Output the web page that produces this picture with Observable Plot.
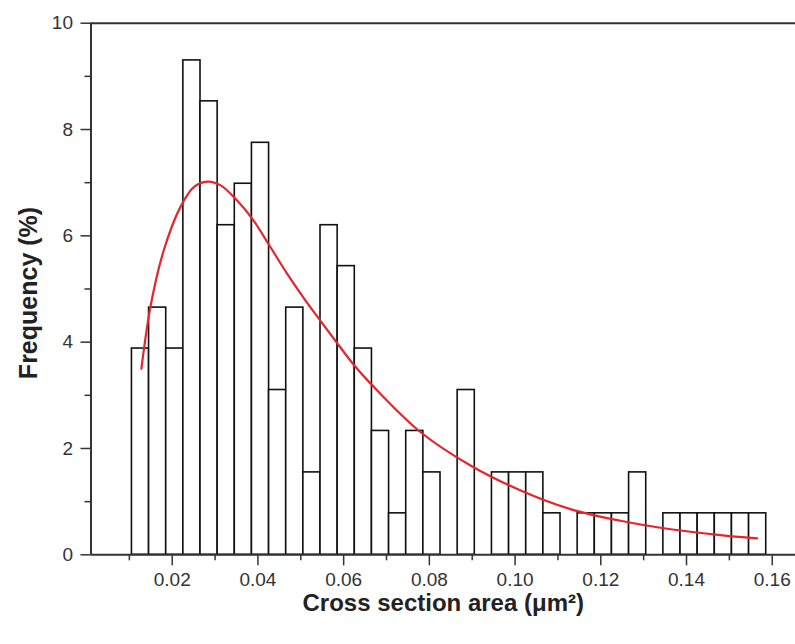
<!DOCTYPE html>
<html><head><meta charset="utf-8">
<script src="https://cdn.jsdelivr.net/npm/d3@7"></script>
<script src="https://cdn.jsdelivr.net/npm/@observablehq/plot@0.6"></script>
<style>body{margin:0;background:#fff} svg{display:block}</style>
</head><body><div id="chart"></div>
<script>
// Histogram bins (left edges, µm²) and bin width
const binLeft = [0.0106,0.0146,0.0186,0.0226,0.0266,0.0306,0.0346,0.0386,0.0426,0.0466,0.0506,0.0546,0.0586,0.0626,0.0666,0.0706,0.0746,0.0786,0.0826,0.0866,0.0906,0.0946,0.0986,0.1026,0.1066,0.1106,0.1146,0.1186,0.1226,0.1266,0.1306,0.1346,0.1386,0.1426,0.1466,0.1506,0.1546];
const binWidth = 0.004;
// Frequency (%) per bin
const frequency = [3.88,4.65,3.88,9.30,8.53,6.20,6.98,7.75,3.10,4.65,1.55,6.20,5.43,3.88,2.33,0.78,2.33,1.55,0,3.10,0,1.55,1.55,1.55,0.78,0,0.78,0.78,0.78,1.55,0,0.78,0.78,0.78,0.78,0.78,0.78];
// Fitted curve
const fitX = [0.0128,0.0150,0.0180,0.0219,0.0251,0.0282,0.0313,0.0352,0.0387,0.0429,0.0468,0.0507,0.0546,0.0585,0.0624,0.0663,0.0779,0.0896,0.1013,0.1129,0.1246,0.1363,0.1479,0.1565];
const fitY = [3.50,4.70,5.72,6.54,6.92,7.02,6.95,6.66,6.32,5.79,5.29,4.83,4.40,3.98,3.57,3.22,2.31,1.68,1.21,0.86,0.64,0.48,0.37,0.31];
// Ticks
const xMajor = [0.02,0.04,0.06,0.08,0.10,0.12,0.14,0.16];
const xLabels = ["0.02","0.04","0.06","0.08","0.10","0.12","0.14","0.16"];
const xMinor = [0.01,0.03,0.05,0.07,0.09,0.11,0.13,0.15];
const yMajor = [0,2,4,6,8,10];
const yMinor = [1,3,5,7,9];
const xTitle = "Cross section area (μm²)";
const yTitle = "Frequency (%)";

const bins = binLeft.map((x, i) => ({x1: x, x2: x + binWidth, y: frequency[i]}));
const fit = fitX.map((x, i) => ({x, y: fitY[i]}));
const xDomain = [0.00105, 0.16543];
const axisColor = "#333";

const chart = Plot.plot({
  width: 795,
  height: 644,
  marginTop: 22.7,
  marginBottom: 89.7,
  marginLeft: 90.5,
  marginRight: 0,
  style: {fontFamily: "'Liberation Sans', Arial, sans-serif", fontSize: "19px", color: "#333", background: "#fff"},
  x: {domain: xDomain},
  y: {domain: [0, 10]},
  marks: [
    Plot.rectY(bins, {x1: "x1", x2: "x2", y: "y", fill: "white", stroke: "#111", strokeWidth: 1.6}),
    Plot.line(fit, {x: "x", y: "y", stroke: "#e3262e", strokeWidth: 2.2, curve: "catmull-rom"}),
    Plot.ruleY([0], {stroke: axisColor, strokeWidth: 2}),
    Plot.ruleY([10], {stroke: axisColor, strokeWidth: 2}),
    Plot.ruleX([xDomain[0]], {stroke: axisColor, strokeWidth: 2}),
    Plot.axisX({ticks: xMajor, tickFormat: (d, i) => xLabels[i], tickSize: 11, tickPadding: 7, stroke: axisColor, strokeWidth: 1.5, fill: axisColor, label: null}),
    Plot.axisX({ticks: xMinor, tickFormat: null, text: null, tickSize: 6, stroke: axisColor, strokeWidth: 1.5, label: null}),
    Plot.axisY({ticks: yMajor, tickSize: 10, tickPadding: 8, stroke: axisColor, strokeWidth: 1.5, fill: axisColor, label: null}),
    Plot.axisY({ticks: yMinor, tickFormat: null, text: null, tickSize: 6, stroke: axisColor, strokeWidth: 1.5, label: null}),
    Plot.text([xTitle], {frameAnchor: "bottom", dy: 56, text: d => d, fontSize: 24, fontWeight: "bold", fill: "#222", textAnchor: "middle"}),
    Plot.text([yTitle], {frameAnchor: "left", dx: -62, dy: 4, rotate: -90, text: d => d, fontSize: 25, fontWeight: "bold", fill: "#222", textAnchor: "middle"})
  ]
});
document.getElementById("chart").appendChild(chart);
</script>
</body></html>
